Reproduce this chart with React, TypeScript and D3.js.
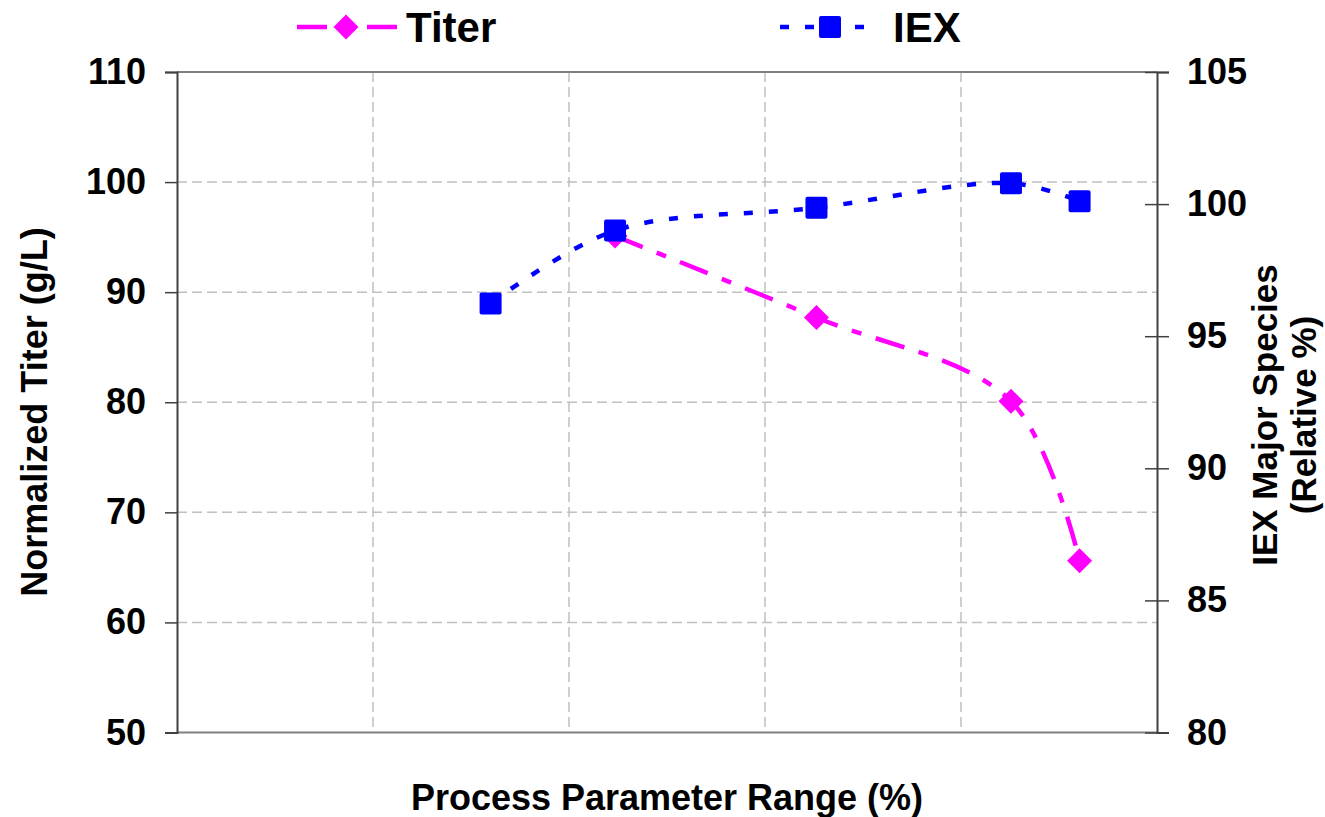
import { useEffect, useRef } from "react";
import * as d3 from "d3";

const titerX = [44.7, 65.25, 85.1, 92.1];
const titerY = [95.1, 87.7, 80.1, 65.6];
const iexX = [32.0, 44.7, 65.25, 85.1, 92.1];
const iexY = [96.24, 99.0, 99.86, 100.79, 100.11];

const leftTicks = [50, 60, 70, 80, 90, 100, 110];
const rightTicks = [80, 85, 90, 95, 100, 105];
const xGrid = [20, 40, 60, 80];

const FONT = "'Liberation Sans', Arial, sans-serif";
const MAGENTA = "#ff00ff";
const BLUE = "#0000ff";

export default function App() {
  const svgRef = useRef<SVGSVGElement>(null);

  useEffect(() => {
    const W = 1325;
    const H = 817;
    const left = 177;
    const right = 1157;
    const top = 72;
    const bottom = 732.5;

    const svg = d3.select(svgRef.current);
    svg.selectAll("*").remove();
    svg.attr("width", W).attr("height", H);

    const x = d3.scaleLinear().domain([0, 100]).range([left, right]);
    const yL = d3.scaleLinear().domain([50, 110]).range([bottom, top]);
    const yR = d3.scaleLinear().domain([80, 105]).range([bottom, top]);

    // Grid
    const grid = svg.append("g");
    grid
      .selectAll("line.h")
      .data(leftTicks.filter((t) => t > 50 && t < 110))
      .enter()
      .append("line")
      .attr("x1", left)
      .attr("x2", right)
      .attr("y1", (d) => yL(d))
      .attr("y2", (d) => yL(d))
      .attr("stroke", "#c0c0c0")
      .attr("stroke-width", 1.5)
      .attr("stroke-dasharray", "10,5");
    grid
      .selectAll("line.v")
      .data(xGrid)
      .enter()
      .append("line")
      .attr("x1", (d) => x(d))
      .attr("x2", (d) => x(d))
      .attr("y1", top)
      .attr("y2", bottom)
      .attr("stroke", "#c0c0c0")
      .attr("stroke-width", 1.5)
      .attr("stroke-dasharray", "10,5");

    // Plot area border (top / bottom)
    svg
      .append("line")
      .attr("x1", left)
      .attr("x2", right)
      .attr("y1", top)
      .attr("y2", top)
      .attr("stroke", "#808080")
      .attr("stroke-width", 2);
    svg
      .append("line")
      .attr("x1", left)
      .attr("x2", right)
      .attr("y1", bottom)
      .attr("y2", bottom)
      .attr("stroke", "#808080")
      .attr("stroke-width", 2);

    // Left axis
    const gl = svg
      .append("g")
      .attr("transform", `translate(${left},0)`)
      .call(d3.axisLeft(yL).tickValues(leftTicks).tickSize(12).tickPadding(19));
    // Right axis (ticks cross the line)
    const gr = svg
      .append("g")
      .attr("transform", `translate(${right},0)`)
      .call(d3.axisRight(yR).tickValues(rightTicks).tickSize(12).tickPadding(18));
    gr.selectAll(".tick line").attr("x1", -12).attr("x2", 12);

    [gl, gr].forEach((g) => {
      g.select(".domain").attr("stroke", "#404040").attr("stroke-width", 2);
      g.selectAll(".tick line").attr("stroke", "#404040").attr("stroke-width", 1.5);
      g.selectAll(".tick text")
        .attr("fill", "#000")
        .attr("font-family", FONT)
        .attr("font-weight", "bold")
        .attr("font-size", 36);
    });

    // Series
    const titer = titerX.map((v, i) => [v, titerY[i]] as [number, number]);
    const iex = iexX.map((v, i) => [v, iexY[i]] as [number, number]);

    const curve = d3.curveCatmullRom.alpha(0.5);
    const titerLine = d3
      .line<[number, number]>()
      .x((d) => x(d[0]))
      .y((d) => yL(d[1]))
      .curve(curve);
    const iexLine = d3
      .line<[number, number]>()
      .x((d) => x(d[0]))
      .y((d) => yR(d[1]))
      .curve(curve);

    const diamond = d3.symbol().type(d3.symbolSquare).size(313);

    svg
      .append("path")
      .attr("d", titerLine(titer))
      .attr("fill", "none")
      .attr("stroke", MAGENTA)
      .attr("stroke-width", 4.5)
      .attr("stroke-dasharray", "30,15,10,15");
    svg
      .selectAll("path.dia")
      .data(titer)
      .enter()
      .append("path")
      .attr("d", diamond)
      .attr("transform", (d) => `translate(${x(d[0])},${yL(d[1])}) rotate(45)`)
      .attr("fill", MAGENTA);

    svg
      .append("path")
      .attr("d", iexLine(iex))
      .attr("fill", "none")
      .attr("stroke", BLUE)
      .attr("stroke-width", 4.5)
      .attr("stroke-dasharray", "9,16");
    svg
      .selectAll("rect.sq")
      .data(iex)
      .enter()
      .append("rect")
      .attr("x", (d) => x(d[0]) - 11)
      .attr("y", (d) => yR(d[1]) - 11)
      .attr("width", 22)
      .attr("height", 22)
      .attr("rx", 2)
      .attr("fill", BLUE);

    // Legend
    const lg = svg.append("g");
    lg.append("line")
      .attr("x1", 297)
      .attr("x2", 397)
      .attr("y1", 27)
      .attr("y2", 27)
      .attr("stroke", MAGENTA)
      .attr("stroke-width", 4.5)
      .attr("stroke-dasharray", "30,15,10,15");
    lg.append("path")
      .attr("d", diamond)
      .attr("transform", "translate(346,27) rotate(45)")
      .attr("fill", MAGENTA);
    lg.append("text")
      .attr("x", 406)
      .attr("y", 27)
      .attr("dy", "0.36em")
      .attr("font-family", FONT)
      .attr("font-weight", "bold")
      .attr("font-size", 42)
      .text("Titer");

    lg.append("line")
      .attr("x1", 780)
      .attr("x2", 880)
      .attr("y1", 27)
      .attr("y2", 27)
      .attr("stroke", BLUE)
      .attr("stroke-width", 4.5)
      .attr("stroke-dasharray", "9,16");
    lg.append("rect")
      .attr("x", 819)
      .attr("y", 16)
      .attr("width", 22)
      .attr("height", 22)
      .attr("rx", 2)
      .attr("fill", BLUE);
    lg.append("text")
      .attr("x", 893)
      .attr("y", 27)
      .attr("dy", "0.36em")
      .attr("font-family", FONT)
      .attr("font-weight", "bold")
      .attr("font-size", 42)
      .text("IEX");

    // Axis titles
    svg
      .append("text")
      .attr("x", (left + right) / 2)
      .attr("y", 810)
      .attr("text-anchor", "middle")
      .attr("font-family", FONT)
      .attr("font-weight", "bold")
      .attr("font-size", 36)
      .text("Process Parameter Range (%)");

    svg
      .append("text")
      .attr("transform", "translate(47,412) rotate(-90)")
      .attr("text-anchor", "middle")
      .attr("font-family", FONT)
      .attr("font-weight", "bold")
      .attr("font-size", 36)
      .text("Normalized Titer (g/L)");

    const rt = svg
      .append("text")
      .attr("transform", "translate(1277,415) rotate(-90)")
      .attr("text-anchor", "middle")
      .attr("font-family", FONT)
      .attr("font-weight", "bold")
      .attr("font-size", 35);
    rt.append("tspan").attr("x", 0).attr("dy", 0).text("IEX Major Species");
    rt.append("tspan").attr("x", 0).attr("dy", 39).text("(Relative %)");
  }, []);

  return (
    <div style={{ position: "absolute", left: 0, top: 0 }}>
      <svg ref={svgRef} style={{ display: "block" }} />
    </div>
  );
}
